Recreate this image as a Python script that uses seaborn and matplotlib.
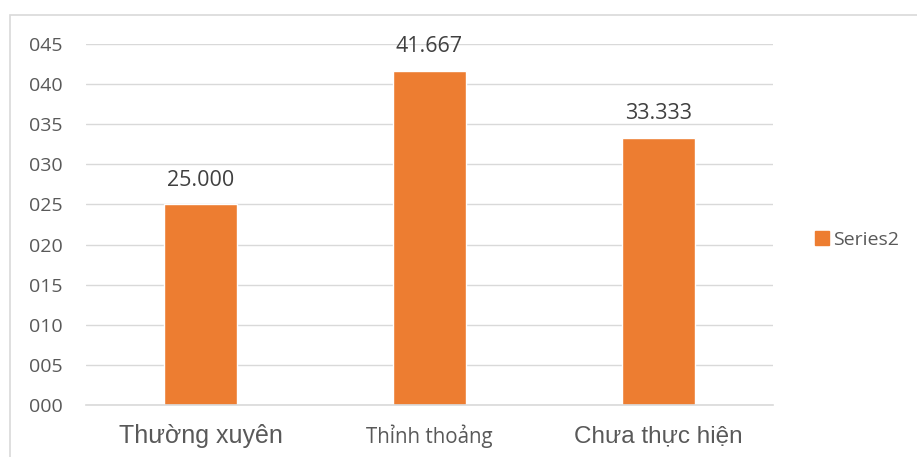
import matplotlib
matplotlib.use("Agg")
import matplotlib.pyplot as plt
import seaborn as sns
import pandas as pd
from matplotlib.patches import Rectangle, Patch

categories = ["Thường xuyên", "Thỉnh thoảng", "Chưa thực hiện"]
values = [25.000, 41.667, 33.333]
value_labels = ["25.000", "41.667", "33.333"]
yticks = [0, 5, 10, 15, 20, 25, 30, 35, 40, 45]
ytick_labels = ["000", "005", "010", "015", "020", "025", "030", "035", "040", "045"]
series_name = "Series2"

sns.set_theme(style="white")
plt.rcParams['font.family'] = ['Open Sans', 'DejaVu Sans']

df = pd.DataFrame({"cat": categories, "val": values})
fig = plt.figure(figsize=(9.17, 4.57), dpi=100)
ax = fig.add_axes([86/917, 1-405/457, (773-86)/917, (405-44)/457])

orange = "#ED7D31"
sns.barplot(data=df, x="cat", y="val", color=orange, width=0.315, ax=ax, saturation=1)
ax.set_ylim(0, 45)
ax.set_xlim(-0.5, 2.5)
ax.set_yticks(yticks)
ax.set_yticklabels(ytick_labels, fontsize=14, color="#595959")
ax.yaxis.grid(True, color="#D9D9D9", linewidth=1)
ax.set_axisbelow(True)
for s in ["top", "right", "left"]:
    ax.spines[s].set_visible(False)
ax.spines["bottom"].set_color("#D9D9D9")
ax.spines["bottom"].set_linewidth(1.2)
ax.tick_params(axis="y", length=0, pad=17)
ax.tick_params(axis="x", length=0, pad=0)
ax.set_xlabel("")
ax.set_ylabel("")

ax.set_xticks(range(len(categories)))
ax.set_xticklabels([])
label_fonts = [(["Liberation Sans", "DejaVu Sans"], 18),
               (["Open Sans", "DejaVu Sans"], 14.8),
               (["Liberation Sans", "DejaVu Sans"], 17.5)]
for i, (cat, (fam, sz)) in enumerate(zip(categories, label_fonts)):
    ax.annotate(cat, xy=(i, 0), xycoords="data", xytext=(0, -31), textcoords="offset pixels",
                ha="center", va="center", fontsize=sz, family=fam, color="#595959")

for i, (v, t) in enumerate(zip(values, value_labels)):
    ax.annotate(t, xy=(i, v), xycoords="data", xytext=(0, 24), textcoords="offset pixels",
                ha="center", va="center", fontsize=15.5, color="#404040")

leg = fig.legend(handles=[Patch(facecolor=orange, edgecolor=orange)], labels=[series_name],
                 loc="center left", bbox_to_anchor=(797/917, 1-240/457), frameon=False,
                 fontsize=14, handlelength=0.75, handleheight=0.75, handletextpad=0.2)
for t in leg.get_texts():
    t.set_color("#595959")

fig.patches.append(Rectangle((10/917, -0.1), 1.2, 1-15/457+0.1, transform=fig.transFigure,
                             fill=False, edgecolor="#D9D9D9", linewidth=1.2))

fig.savefig("out.png", dpi=100)
